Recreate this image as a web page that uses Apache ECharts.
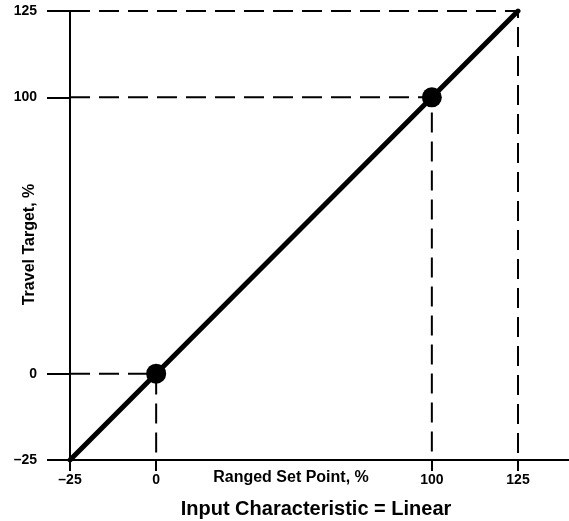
<!DOCTYPE html>
<html>
<head>
<meta charset="utf-8">
<script src="https://cdn.jsdelivr.net/npm/echarts@6/dist/echarts.min.js"></script>
<style>
  html, body { margin: 0; padding: 0; background: #fff; }
  #main { width: 569px; height: 521px; }
</style>
</head>
<body>
<div id="main"></div>
<script>
// characteristic line, marked points and guide values (in %)
const lineX = [-25, 125];
const lineY = [-25, 125];
const pointX = [0, 100];
const pointY = [0, 100];
const guideValues = [0, 100, 125];
const tickValues = [-25, 0, 100, 125];
const tickLabels = ['\u201325', '0', '100', '125'];

// the drawing is schematic: the 0..100 span is drawn at 0.8 of the outer spans
function toAxis(v) {
  if (v <= 0) return v;
  if (v <= 100) return v * 0.8;
  return 80 + (v - 100);
}

const axisMin = toAxis(-25);
const axisTicks = tickValues.map(toAxis);
const fontFam = '"Liberation Sans", Arial, sans-serif';

function tickLabel(v) {
  const i = axisTicks.findIndex(function (t) { return Math.abs(t - v) < 1e-6; });
  return i >= 0 ? tickLabels[i] : '';
}

// dashed guide: from y axis across to the point, then down to x axis
const guideSeries = guideValues.map(function (v) {
  const a = toAxis(v);
  return {
    type: 'line',
    data: [[axisMin, a], [a, a], [a, axisMin]],
    symbol: 'none',
    silent: true,
    lineStyle: { color: '#000', width: 2, type: [20, 9] },
    z: 1
  };
});

const myChart = echarts.init(document.getElementById('main'));
const option = {
  backgroundColor: '#fff',
  animation: false,
  title: {
    text: 'Input Characteristic = Linear',
    left: 311,
    textAlign: 'center',
    top: 494,
    textStyle: { fontFamily: fontFam, fontWeight: 'bold', fontSize: 20, color: '#000' }
  },
  grid: { left: 70, right: 0, top: 11, bottom: 61, containLabel: false, outerBoundsMode: 'none' },
  xAxis: {
    type: 'value',
    min: axisMin,
    max: 119.8,
    splitLine: { show: false },
    axisLine: { onZero: false, lineStyle: { color: '#000', width: 2 } },
    axisTick: { customValues: axisTicks, length: 11, lineStyle: { color: '#000', width: 2 } },
    axisLabel: {
      customValues: axisTicks,
      margin: 13,
      color: '#000',
      fontFamily: fontFam,
      fontWeight: 'bold',
      fontSize: 14,
      formatter: tickLabel
    },
    name: 'Ranged Set Point, %',
    nameLocation: 'middle',
    nameGap: 10,
    nameMoveOverlap: false,
    nameTextStyle: {
      fontFamily: fontFam, fontWeight: 'bold', fontSize: 16, color: '#000',
      padding: [0, 57, 0, 0]
    }
  },
  yAxis: {
    type: 'value',
    min: axisMin,
    max: toAxis(125),
    splitLine: { show: false },
    axisLine: { onZero: false, lineStyle: { color: '#000', width: 2 } },
    axisTick: { customValues: axisTicks, length: 23, lineStyle: { color: '#000', width: 2 } },
    axisLabel: {
      customValues: axisTicks,
      margin: 33,
      color: '#000',
      fontFamily: fontFam,
      fontWeight: 'bold',
      fontSize: 14,
      formatter: tickLabel
    },
    name: 'Travel Target, %',
    nameLocation: 'middle',
    nameGap: 32,
    nameMoveOverlap: false,
    nameTextStyle: {
      fontFamily: fontFam, fontWeight: 'bold', fontSize: 16, color: '#000',
      padding: [0, 18, 0, 0]
    }
  },
  series: guideSeries.concat([
    {
      type: 'line',
      data: lineX.map(function (x, i) { return [toAxis(x), toAxis(lineY[i])]; }),
      symbol: 'none',
      silent: true,
      lineStyle: { color: '#000', width: 5, cap: 'round' },
      z: 3
    },
    {
      type: 'scatter',
      data: pointX.map(function (x, i) { return [toAxis(x), toAxis(pointY[i])]; }),
      symbol: 'circle',
      symbolSize: 20,
      itemStyle: { color: '#000', opacity: 1 },
      z: 4
    }
  ])
};
myChart.setOption(option);
</script>
</body>
</html>
